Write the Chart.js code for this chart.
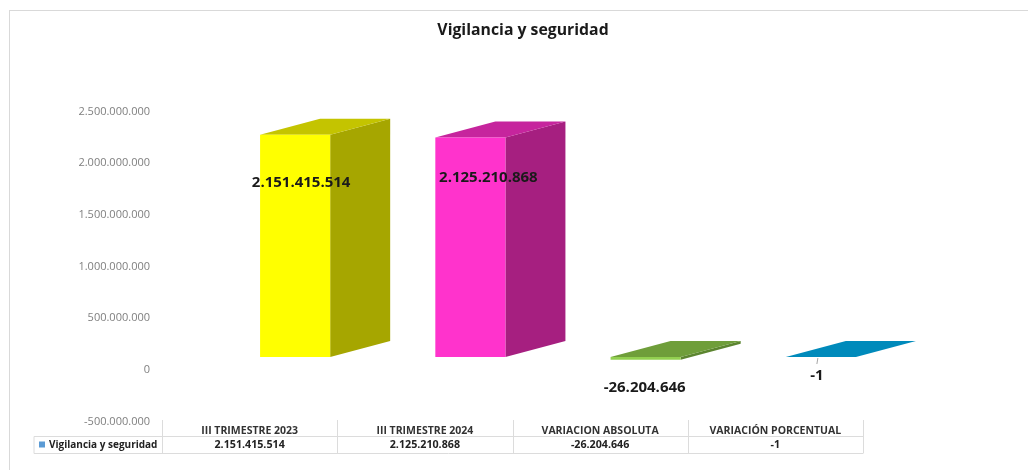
<!DOCTYPE html>
<html><head><meta charset="utf-8">
<style>
html,body{margin:0;padding:0;background:#fff;width:1028px;height:470px;overflow:hidden}
#frame{position:absolute;left:9px;top:10px;width:1030px;height:470px;border:1px solid #d9d9d9;box-sizing:border-box}
canvas{position:absolute;left:18px;top:0}
</style>
<script src="https://cdn.jsdelivr.net/npm/chart.js@4"></script>
</head><body>
<div id="frame"></div>
<canvas id="c" width="1010" height="470"></canvas>
<script>
const categories = ["III TRIMESTRE 2023","III TRIMESTRE 2024","VARIACION ABSOLUTA","VARIACIÓN PORCENTUAL"];
const seriesName = "Vigilancia y seguridad";
const values = [2151415514, 2125210868, -26204646, -1];
const frontColors = ["#ffff00","#ff33cc","#92d050","#0090c0"];
const topColors = ["#c4c400","#c6259d","#6f9e3a","#008abb"];
const sideColors = ["#a6a600","#a61f80","#5c8530","#0078a3"];
const yTicks = [-500000000,0,500000000,1000000000,1500000000,2000000000,2500000000];

const fmt = v => (v<0?"-":"") + String(Math.abs(v)).replace(/\B(?=(\d{3})+$)/g,".");
const FONT = '"Open Sans", sans-serif';
const shift = {x:45.5, y:-12.8};
const depth = {x:60, y:-16};
const labelNudge = [{x:6,y:48},{x:18,y:40},{x:-1,y:31},{x:-4,y:19}];

const poly = (ctx,pts,fill)=>{ctx.beginPath();pts.forEach((p,i)=>i?ctx.lineTo(p[0],p[1]):ctx.moveTo(p[0],p[1]));ctx.closePath();ctx.fillStyle=fill;ctx.fill();};

const bars3d = {
  id:'bars3d',
  beforeDatasetDraw(chart){
    const ctx=chart.ctx;
    ctx.save();
    ctx.translate(shift.x,shift.y);
    chart.getDatasetMeta(0).data.forEach((b,i)=>{
      const l=b.x-b.width/2,r=b.x+b.width/2,t=Math.min(b.y,b.base),bt=Math.max(b.y,b.base);
      const d=depth;
      poly(ctx,[[r,t],[r+d.x,t+d.y],[r+d.x,bt+d.y],[r,bt]],sideColors[i]);
      poly(ctx,[[l,t],[l+d.x,t+d.y],[r+d.x,t+d.y],[r,t]],topColors[i]);
    });
  },
  afterDatasetDraw(chart){
    const ctx=chart.ctx;
    ctx.restore();
    ctx.save();
    ctx.font='bold 15px '+FONT;
    ctx.fillStyle='#1a1a1a';
    ctx.textAlign='center';ctx.textBaseline='middle';
    chart.getDatasetMeta(0).data.forEach((b,i)=>{
      const x=b.x+shift.x+labelNudge[i].x, y=Math.min(b.y,b.base)+shift.y+labelNudge[i].y;
      ctx.fillText(fmt(values[i]),x,y);
      if(i===3){
        ctx.strokeStyle='#a6a6a6';ctx.lineWidth=1;
        ctx.beginPath();ctx.moveTo(x,b.y+shift.y+7);ctx.lineTo(x+1,b.y+shift.y+1);ctx.stroke();
      }
    });
    ctx.restore();
  },
  afterDraw(chart){
    const ctx=chart.ctx,a=chart.chartArea,xs=chart.scales.x;
    const headTop=a.bottom-1.5,rowTop=a.bottom+15,rowBot=a.bottom+32,legendLeft=16;
    const step=(a.right-a.left)/categories.length;
    ctx.save();
    ctx.strokeStyle='#dcdcdc';ctx.lineWidth=1;
    ctx.beginPath();
    ctx.moveTo(legendLeft,rowTop);ctx.lineTo(a.right,rowTop);
    ctx.moveTo(legendLeft,rowBot);ctx.lineTo(a.right,rowBot);
    ctx.moveTo(legendLeft,rowTop);ctx.lineTo(legendLeft,rowBot);
    for(let i=0;i<=categories.length;i++){
      const gx=Math.round(a.left+i*step)+0.5;
      ctx.moveTo(gx,headTop);ctx.lineTo(gx,rowBot);
    }
    ctx.stroke();
    ctx.fillStyle='#5b9bd5';
    ctx.fillRect(legendLeft+5,rowTop+5,6,6);
    ctx.fillStyle='#222';
    ctx.font='bold 10px '+FONT;
    ctx.textBaseline='middle';ctx.textAlign='left';
    ctx.fillText(seriesName,legendLeft+15,rowTop+8.5);
    ctx.font='bold 10.7px '+FONT;
    ctx.textAlign='center';
    values.forEach((v,i)=>ctx.fillText(fmt(v),xs.getPixelForValue(i),rowTop+8.5));
    ctx.restore();
  }
};

new Chart(document.getElementById('c'),{
  type:'bar',
  data:{labels:categories,datasets:[{label:seriesName,data:values,backgroundColor:frontColors,borderWidth:0,categoryPercentage:1,barPercentage:0.4}]},
  plugins:[bars3d],
  options:{
    responsive:false,animation:false,
    layout:{padding:0},
    plugins:{
      legend:{display:false},tooltip:{enabled:false},
      title:{display:true,text:"Vigilancia y seguridad",color:'#1a1a1a',font:{family:FONT,size:15.8,weight:'bold'},padding:{top:21,bottom:71.5}}
    },
    scales:{
      y:{min:-500000000,max:2500000000,
        afterBuildTicks(s){s.ticks=yTicks.map(v=>({value:v}));},
        afterFit(s){s.width=144;},
        grid:{display:false},border:{display:false},
        ticks:{callback:v=>fmt(v),color:'#7f7f7f',font:{family:FONT,size:11},padding:4}
      },
      spacer:{position:'right',display:true,min:0,max:1,
        afterFit(s){s.width=165;},
        grid:{display:false},border:{display:false},ticks:{display:false}
      },
      x:{
        afterFit(s){s.height=48.5;},
        offset:true,
        grid:{display:false},
        border:{display:false},
        ticks:{color:'#333',font:{family:FONT,size:10.5,weight:'bold'},padding:-5,maxRotation:0,autoSkip:false}
      }
    }
  }
});
</script></body></html>
